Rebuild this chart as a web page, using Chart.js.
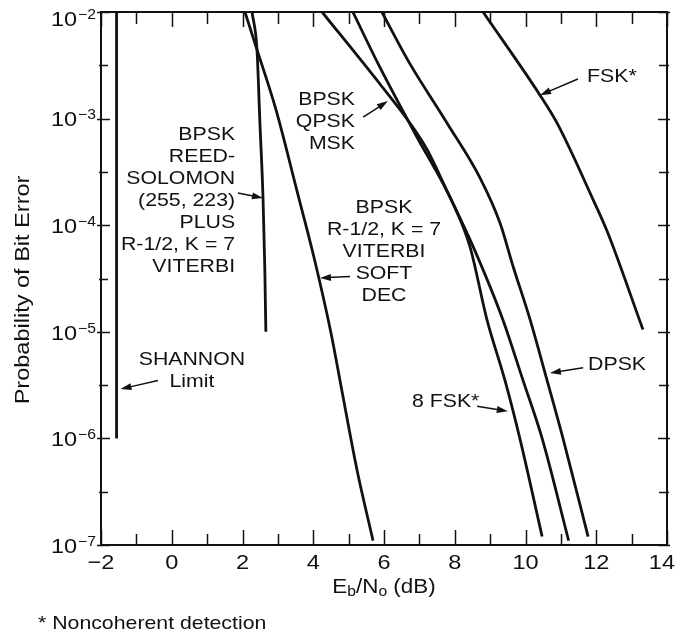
<!DOCTYPE html>
<html>
<head>
<meta charset="utf-8">
<script src="https://cdn.jsdelivr.net/npm/chart.js@4"></script>
<style>
  body { margin: 0; background: #fff; }
  #wrap { width: 676px; height: 633px; }
</style>
</head>
<body>
<div id="wrap"><canvas id="ber"></canvas></div>
<script>
// ---------------- data (Eb/No in dB, bit error probability) ----------------
const shannonX = [-1.56, -1.56];
const shannonY = [1e-2, 1e-6];

const rsX = [2.27, 2.41, 2.49, 2.58, 2.63, 2.66];
const rsY = [1e-2, 4.4e-3, 9.5e-4, 1.8e-4, 4e-5, 1e-5];

const softX = [2.07, 2.35, 2.95, 3.54, 4.02, 4.50, 4.81, 5.24, 5.69];
const softY = [1e-2, 5.1e-3, 1.2e-3, 2.1e-4, 5e-5, 9.8e-6, 2.8e-6, 5e-7, 1.1e-7];

const bpskX = [4.25, 5.89, 6.73, 7.22, 7.78, 8.52, 9.36, 9.93, 10.47, 11.22];
const bpskY = [1e-2, 2.1e-3, 9.1e-4, 5.1e-4, 2.1e-4, 6.3e-5, 1.3e-5, 3.5e-6, 1.0e-6, 1.1e-7];

const fsk8X = [5.12, 5.89, 6.9, 7.95, 8.43, 8.91, 9.42, 9.84, 10.47];
const fsk8Y = [1e-2, 3e-3, 7e-4, 1.6e-4, 6.3e-5, 1.3e-5, 3.5e-6, 1.0e-6, 1.2e-7];

const dpskX = [5.94, 6.68, 7.78, 8.71, 9.28, 9.65, 10.13, 10.61, 11.06, 11.77];
const dpskY = [1e-2, 3.5e-3, 9.1e-4, 2.8e-4, 1.05e-4, 4.1e-5, 1.3e-5, 3.5e-6, 1.0e-6, 1.2e-7];

const fskX = [8.80, 10.41, 10.89, 11.91, 12.30, 13.32];
const fskY = [1e-2, 1.66e-3, 9.1e-4, 1.74e-4, 8.9e-5, 1.05e-5];

// axis ticks
const xMajor = [-2, 0, 2, 4, 6, 8, 10, 12, 14];
const xMajorLabels = ['\u22122', '0', '2', '4', '6', '8', '10', '12', '14'];
const xMinor = [-1, 1, 3, 5, 7, 9, 11, 13];
const yMajor = [1e-2, 1e-3, 1e-4, 1e-5, 1e-6, 1e-7];
const yExponents = ['\u22122', '\u22123', '\u22124', '\u22125', '\u22126', '\u22127'];
const yMinor = [3.16e-3, 3.16e-4, 3.16e-5, 3.16e-6, 3.16e-7];

// curve labels: text block anchor and arrow tail/head, all in data units
const notes = [
    { lines: ['BPSK', 'REED-', 'SOLOMON', '(255, 223)', 'PLUS', 'R-1/2, K = 7', 'VITERBI'],
      x: 1.79, y: 7.0e-4, align: 'right', tail: [1.87, 2.0e-4], head: [2.58, 1.8e-4] },
    { lines: ['BPSK', 'QPSK', 'MSK'],
      x: 5.18, y: 1.5e-3, align: 'right', tail: [5.41, 1.03e-3], head: [6.11, 1.46e-3] },
    { lines: ['BPSK', 'R-1/2, K = 7', 'VITERBI', 'SOFT', 'DEC'],
      x: 6.0, y: 1.45e-4, align: 'center', tail: [5.04, 3.3e-5], head: [4.19, 3.2e-5] },
    { lines: ['SHANNON', 'Limit'],
      x: 0.57, y: 5.5e-6, align: 'center', tail: [-0.39, 3.5e-6], head: [-1.45, 2.9e-6] },
    { lines: ['FSK*'],
      x: 11.74, y: 2.45e-3, align: 'left', tail: [11.48, 2.35e-3], head: [10.41, 1.66e-3] },
    { lines: ['DPSK'],
      x: 11.77, y: 4.9e-6, align: 'left', tail: [11.63, 4.6e-6], head: [10.69, 4.1e-6] },
    { lines: ['8 FSK*'],
      x: 6.79, y: 2.2e-6, align: 'left', tail: [8.63, 2.0e-6], head: [9.5, 1.8e-6] }
];

const FONT = '"Liberation Sans", Arial, Helvetica, sans-serif';
const SX = 1.12; // the scanned lettering is a bit wide
const INK = '#111';
let chartW = 676;

function pts(xs, ys) {
    return xs.map((x, i) => ({ x: x, y: ys[i] }));
}

function curve(xs, ys, smooth) {
    return {
        data: pts(xs, ys),
        showLine: true,
        borderColor: INK,
        borderWidth: 2.8,
        pointRadius: 0,
        cubicInterpolationMode: smooth ? 'monotone' : 'default',
        tension: 0,
        fill: false
    };
}

// draw text stretched horizontally, returns width
function txt(ctx, s, x, y, size, align) {
    ctx.save();
    ctx.font = size + 'px ' + FONT;
    ctx.textBaseline = 'middle';
    ctx.textAlign = 'left';
    const w = ctx.measureText(s).width * SX;
    let x0 = x;
    if (align === 'center') x0 = x - w / 2;
    else if (align === 'right') x0 = x - w;
    if (x0 + w > chartW - 1) x0 = chartW - 1 - w;
    ctx.translate(x0, y);
    ctx.scale(SX, 1);
    ctx.fillText(s, 0, 0);
    ctx.restore();
    return w;
}

function textWidth(ctx, s, size) {
    ctx.save();
    ctx.font = size + 'px ' + FONT;
    const w = ctx.measureText(s).width * SX;
    ctx.restore();
    return w;
}

function arrow(ctx, x1, y1, x2, y2) {
    const ang = Math.atan2(y2 - y1, x2 - x1);
    const len = 11, half = 3.5;
    ctx.beginPath();
    ctx.moveTo(x1, y1);
    ctx.lineTo(x2 - Math.cos(ang) * len * 0.7, y2 - Math.sin(ang) * len * 0.7);
    ctx.stroke();
    ctx.beginPath();
    ctx.moveTo(x2, y2);
    ctx.lineTo(x2 - Math.cos(ang) * len - Math.sin(ang) * half, y2 - Math.sin(ang) * len + Math.cos(ang) * half);
    ctx.lineTo(x2 - Math.cos(ang) * len + Math.sin(ang) * half, y2 - Math.sin(ang) * len - Math.cos(ang) * half);
    ctx.closePath();
    ctx.fill();
}

// frame, inward ticks, tick labels, titles and notes
const decor = {
    id: 'decor',
    afterDatasetsDraw(chart) {
        const ctx = chart.ctx;
        const a = chart.chartArea;
        const xs = chart.scales.x, ys = chart.scales.y;
        chartW = chart.width;
        ctx.save();
        ctx.strokeStyle = INK;
        ctx.fillStyle = INK;

        // box
        ctx.lineWidth = 2;
        ctx.strokeRect(a.left, a.top, a.right - a.left, a.bottom - a.top);

        // x ticks (bottom and top, inward)
        ctx.lineWidth = 1.5;
        ctx.beginPath();
        xMajor.forEach(v => {
            const px = Math.round(xs.getPixelForValue(v)) + 0.5;
            ctx.moveTo(px, a.bottom); ctx.lineTo(px, a.bottom - 15);
            ctx.moveTo(px, a.top); ctx.lineTo(px, a.top + 15);
        });
        xMinor.forEach(v => {
            const px = Math.round(xs.getPixelForValue(v)) + 0.5;
            ctx.moveTo(px, a.bottom); ctx.lineTo(px, a.bottom - 11);
            ctx.moveTo(px, a.top); ctx.lineTo(px, a.top + 12);
        });
        // y ticks (left and right, crossing the axis)
        yMajor.forEach(v => {
            const py = Math.round(ys.getPixelForValue(v)) + 0.5;
            ctx.moveTo(a.left - 4, py); ctx.lineTo(a.left + 9, py);
            ctx.moveTo(a.right + 3, py); ctx.lineTo(a.right - 9, py);
        });
        yMinor.forEach(v => {
            const py = Math.round(ys.getPixelForValue(v)) + 0.5;
            ctx.moveTo(a.left - 2, py); ctx.lineTo(a.left + 7, py);
            ctx.moveTo(a.right + 2, py); ctx.lineTo(a.right - 8, py);
        });
        ctx.stroke();

        // x tick labels
        xMajor.forEach((v, i) => {
            txt(ctx, xMajorLabels[i], xs.getPixelForValue(v), a.bottom + 18, 21, 'center');
        });

        // y tick labels 10^n
        yMajor.forEach((v, i) => {
            const py = Math.max(ys.getPixelForValue(v) + 2, a.top + 8);
            const right = a.left - 5;
            const supW = txt(ctx, yExponents[i], right, py - 5, 14, 'right');
            txt(ctx, '10', right - supW - 1, py, 21, 'right');
        });

        // y title
        ctx.save();
        ctx.translate(23, 290);
        ctx.rotate(-Math.PI / 2);
        txt(ctx, 'Probability of Bit Error', 0, 0, 21, 'center');
        ctx.restore();

        // x title Eb/No (dB)
        const parts = [['E', 20, 0], ['b', 14, 5], ['/N', 20, 0], ['o', 14, 5], [' (dB)', 20, 0]];
        let total = 0;
        parts.forEach(p => { total += textWidth(ctx, p[0], p[1]); });
        let cx = (a.left + a.right) / 2 - total / 2;
        parts.forEach(p => { cx += txt(ctx, p[0], cx, 587 + p[2], p[1], 'left'); });

        // footnote
        txt(ctx, '* Noncoherent detection', 38, 624, 19, 'left');

        // curve notes
        ctx.lineWidth = 1.5;
        notes.forEach(n => {
            const px = xs.getPixelForValue(n.x);
            const py = ys.getPixelForValue(n.y);
            n.lines.forEach((s, i) => txt(ctx, s, px, py + i * 22, 19, n.align));
            arrow(ctx,
                xs.getPixelForValue(n.tail[0]), ys.getPixelForValue(n.tail[1]),
                xs.getPixelForValue(n.head[0]), ys.getPixelForValue(n.head[1]));
        });

        ctx.restore();
    }
};

new Chart(document.getElementById('ber'), {
    type: 'scatter',
    data: {
        datasets: [
            curve(shannonX, shannonY, false),
            curve(rsX, rsY, true),
            curve(softX, softY, true),
            curve(bpskX, bpskY, true),
            curve(fsk8X, fsk8Y, true),
            curve(dpskX, dpskY, true),
            curve(fskX, fskY, true)
        ]
    },
    options: {
        responsive: true,
        maintainAspectRatio: false,
        animation: false,
        layout: { padding: { left: 101, right: 9, top: 12, bottom: 88 } },
        plugins: { legend: { display: false }, tooltip: { enabled: false } },
        scales: {
            x: { type: 'linear', min: -2, max: 14, display: false },
            y: { type: 'logarithmic', min: 1e-7, max: 1e-2, display: false }
        }
    },
    plugins: [decor]
});
</script>
</body>
</html>
